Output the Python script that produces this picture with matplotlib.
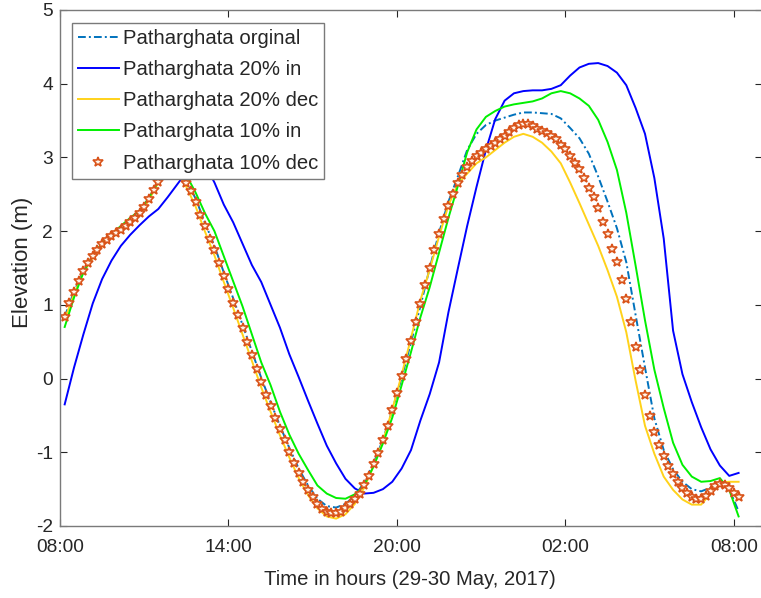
import numpy as np
import matplotlib
matplotlib.use("Agg")
import matplotlib.pyplot as plt

plt.rcParams['font.family'] = ['Liberation Sans', 'DejaVu Sans']
plt.rcParams['axes.unicode_minus'] = False

# 10-minute samples (10% dec markers), 08:10 -> 08:10 next day
dec10 = [0.84,1.02,1.18,1.33,1.46,1.57,1.66,1.75,1.82,1.88,
         1.93,1.98,2.02,2.07,2.13,2.18,2.25,2.33,2.43,2.56,
         2.67,2.77,2.86,2.91,2.86,2.76,2.65,2.54,2.40,2.22,
         2.07,1.90,1.75,1.57,1.39,1.21,1.03,0.86,0.68,0.49,
         0.32,0.13,-0.04,-0.22,-0.37,-0.53,-0.69,-0.83,-0.99,-1.14,
         -1.28,-1.40,-1.51,-1.61,-1.70,-1.77,-1.81,-1.82,-1.82,-1.81,
         -1.76,-1.70,-1.64,-1.56,-1.44,-1.32,-1.16,-1.01,-0.83,-0.65,
         -0.42,-0.20,0.03,0.27,0.51,0.77,1.01,1.27,1.50,1.74,
         1.96,2.16,2.34,2.50,2.65,2.76,2.87,2.95,3.02,3.06,
         3.11,3.15,3.19,3.25,3.29,3.35,3.40,3.44,3.45,3.45,
         3.42,3.39,3.36,3.33,3.29,3.25,3.17,3.11,3.02,2.93,
         2.84,2.72,2.59,2.46,2.31,2.13,1.96,1.76,1.58,1.34,
         1.08,0.77,0.43,0.11,-0.22,-0.51,-0.72,-0.90,-1.05,-1.18,
         -1.30,-1.40,-1.48,-1.55,-1.60,-1.63,-1.63,-1.59,-1.52,-1.46,
         -1.43,-1.44,-1.49,-1.55,-1.60]

# 20-minute samples for the line series, 08:10 -> 08:10 next day
original = [0.84,1.18,1.46,1.66,1.82,1.93,2.03,2.14,2.27,2.45,2.68,
            2.87,2.88,2.68,2.44,2.11,1.80,1.44,1.09,0.73,0.37,
            0.01,-0.32,-0.64,-0.94,-1.22,-1.45,-1.63,-1.73,-1.75,-1.70,
            -1.59,-1.41,-1.15,-0.83,-0.43,0.01,0.49,0.98,1.50,1.98,
            2.40,2.74,3.10,3.32,3.44,3.50,3.54,3.58,3.61,3.61,
            3.60,3.59,3.53,3.40,3.26,3.05,2.74,2.40,2.04,1.58,
            0.86,0.15,-0.54,-0.97,-1.23,-1.40,-1.50,-1.53,-1.48,-1.41,
            -1.50,-1.80]
inc20 = [-0.35,0.15,0.60,1.02,1.35,1.60,1.80,1.95,2.08,2.20,2.30,
         2.46,2.63,2.80,2.93,2.90,2.66,2.36,2.12,1.83,1.54,
         1.31,1.00,0.69,0.33,0.02,-0.30,-0.61,-0.91,-1.15,-1.36,
         -1.49,-1.56,-1.55,-1.50,-1.40,-1.22,-0.97,-0.57,-0.21,0.22,
         0.90,1.49,2.07,2.60,3.10,3.52,3.77,3.87,3.90,3.91,
         3.91,3.93,3.98,4.11,4.22,4.27,4.28,4.24,4.15,3.98,
         3.67,3.32,2.72,1.90,0.65,0.06,-0.32,-0.66,-0.96,-1.18,
         -1.32,-1.28]
dec20 = [0.80,1.15,1.44,1.64,1.80,1.91,2.00,2.11,2.23,2.42,2.66,
         2.86,2.84,2.60,2.33,1.99,1.67,1.31,0.96,0.60,0.24,
         -0.12,-0.45,-0.77,-1.07,-1.35,-1.58,-1.76,-1.87,-1.90,-1.84,
         -1.70,-1.48,-1.19,-0.85,-0.42,0.05,0.55,1.06,1.48,1.93,
         2.35,2.64,2.78,2.92,3.00,3.10,3.20,3.28,3.32,3.28,
         3.20,3.08,2.92,2.66,2.38,2.09,1.80,1.47,1.11,0.63,
         -0.03,-0.64,-1.02,-1.33,-1.51,-1.64,-1.71,-1.71,-1.56,-1.41,
         -1.40,-1.40]
inc10 = [0.70,1.10,1.44,1.67,1.84,1.96,2.07,2.18,2.28,2.45,2.67,
         2.86,2.90,2.76,2.52,2.24,2.00,1.66,1.32,0.98,0.60,
         0.22,-0.09,-0.45,-0.76,-1.02,-1.24,-1.45,-1.56,-1.62,-1.63,
         -1.57,-1.45,-1.19,-0.88,-0.53,-0.09,0.36,0.83,1.24,1.71,
         2.18,2.61,3.07,3.38,3.55,3.63,3.69,3.72,3.74,3.76,
         3.80,3.87,3.90,3.87,3.80,3.70,3.51,3.21,2.83,2.25,
         1.53,0.79,0.12,-0.40,-0.87,-1.17,-1.33,-1.40,-1.39,-1.35,
         -1.51,-1.87]

labels = ['Patharghata orginal', 'Patharghata 20% in', 'Patharghata 20% dec',
          'Patharghata 10% in', 'Patharghata 10% dec']
xtick_hours = [0, 6, 12, 18, 24]
xtick_labels = ['08:00', '14:00', '20:00', '02:00', '08:00']

t_line = (1 + 2 * np.arange(len(original))) / 6.0   # hours after 08:00
t_mark = (1 + np.arange(len(dec10))) / 6.0

W, H = 761, 598
fig = plt.figure(figsize=(W / 100, H / 100), dpi=100)
ax = fig.add_axes([60 / W, 72 / H, 702 / W, 516 / H])

lw = 1.4
ax.plot(t_line, original, color='#0072BD', lw=lw, linestyle=(0, (4, 1.6, 1, 1.6)), label=labels[0])
ax.plot(t_line, inc20, color='#0000FF', lw=lw, label=labels[1])
ax.plot(t_line, dec20, color='#FFD21A', lw=lw, label=labels[2])
ax.plot(t_line, inc10, color='#00F000', lw=lw, label=labels[3])
ax.plot(t_mark, dec10, linestyle='none', marker='*', ms=7, mfc='#FFF3E8',
        mec='#D95319', mew=1.2, label=labels[4])

ax.set_xlim(0, 25)
ax.set_ylim(-2, 5)
ax.set_xticks(xtick_hours)
ax.set_xticklabels(xtick_labels)
ax.set_yticks(range(-2, 6))
ax.tick_params(direction='in', top=True, right=True, length=5, width=0.8,
               labelsize=13.8, colors='#262626')
ax.tick_params(axis='x', pad=9.5)
ax.tick_params(axis='y', pad=5)
for s in ax.spines.values():
    s.set_color('#7a7a7a')
    s.set_linewidth(1.0)

ax.set_xlabel('Time in hours (29-30 May, 2017)', fontsize=14.6, color='#262626')
ax.set_ylabel('Elevation (m)', fontsize=16, color='#262626')
ax.xaxis.set_label_coords(0.4986, -0.085)
ax.yaxis.set_label_coords(-0.0385, 0.51)

leg = ax.legend(loc='upper left', bbox_to_anchor=(0.017, 0.975), borderaxespad=0,
                fontsize=14.6, handlelength=2.0, handletextpad=0.2, labelspacing=0.6,
                borderpad=0.3, fancybox=False, framealpha=1, edgecolor='#7a7a7a')
leg.get_frame().set_linewidth(1.0)
for txt in leg.get_texts():
    txt.set_color('#262626')

fig.savefig('out.png', dpi=100)
